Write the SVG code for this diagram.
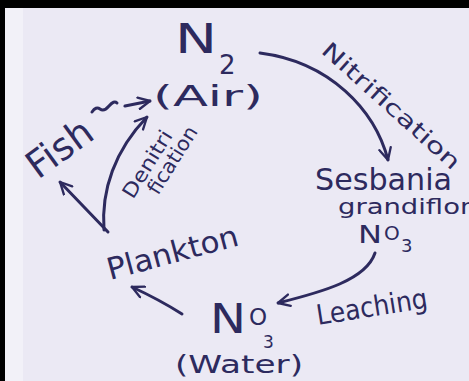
<svg xmlns="http://www.w3.org/2000/svg" width="469" height="381" viewBox="0 0 469 381">
<style>
.ink{fill:#2d2a5e;font-family:"DejaVu Sans","Liberation Sans",sans-serif;}
.ln{fill:none;stroke:#2d2a5e;stroke-width:3;stroke-linecap:round;stroke-linejoin:round;}
</style>
<defs>
<marker id="ah" viewBox="0 0 12 12" refX="11" refY="6" markerWidth="14" markerHeight="14" markerUnits="userSpaceOnUse" orient="auto">
<path d="M1,1 L11,6 L1,11" fill="none" stroke="#2d2a5e" stroke-width="2" stroke-linecap="round" stroke-linejoin="round"/>
</marker>
</defs>
<rect x="0" y="0" width="469" height="381" fill="#ebe9f4"/>
<rect x="5" y="8" width="18" height="373" fill="#f2f1f8"/>
<rect x="0" y="0" width="469" height="8" fill="#000"/>
<rect x="0" y="0" width="5" height="381" fill="#000"/>

<g id="connectors">
<path class="ln" d="M260,53 C330,62 375,110 388,160" marker-end="url(#ah)"/>
<path class="ln" d="M375,253 C366,280 322,292 278,303" marker-end="url(#ah)"/>
<path class="ln" d="M182,314 Q160,300 132,287" marker-end="url(#ah)"/>
<path class="ln" d="M108,232 L60,182" marker-end="url(#ah)"/>
<path class="ln" d="M104,230 C101,190 115,150 147,117" marker-end="url(#ah)"/>
<path class="ln" d="M92,112 q4,-6 8,-3 t9,-3 t8,-3" stroke-width="2.2"/>
<path class="ln" d="M125,106 L150,101" marker-end="url(#ah)"/>
</g>

<g id="n2-air">
<text class="ink" x="175" y="53" font-size="40" textLength="42" lengthAdjust="spacingAndGlyphs">N</text>
<text class="ink" x="219" y="74" font-size="26">2</text>
<text class="ink" x="153" y="106" font-size="29" textLength="110" lengthAdjust="spacingAndGlyphs">(Air)</text>
</g>

<g id="nitrification">
<text class="ink" font-size="22" textLength="178" lengthAdjust="spacingAndGlyphs" transform="translate(320,52) rotate(42)">Nitrification</text>
</g>

<g id="sesbania">
<text class="ink" x="315" y="190" font-size="30" textLength="137" lengthAdjust="spacingAndGlyphs">Sesbania</text>
<text class="ink" x="338" y="214" font-size="21" textLength="150" lengthAdjust="spacingAndGlyphs">grandiflora</text>
<text class="ink" x="358" y="243" font-size="24" textLength="24" lengthAdjust="spacingAndGlyphs">N</text>
<text class="ink" x="384" y="240" font-size="20">O</text>
<text class="ink" x="401" y="252" font-size="18">3</text>
</g>

<g id="leaching">
<text class="ink" font-size="28" textLength="112" lengthAdjust="spacingAndGlyphs" transform="translate(318,325) rotate(-9)">Leaching</text>
</g>

<g id="no3-water">
<text class="ink" x="210" y="333" font-size="40" textLength="36" lengthAdjust="spacingAndGlyphs">N</text>
<text class="ink" x="249" y="325" font-size="23">O</text>
<text class="ink" x="263" y="348" font-size="17">3</text>
<text class="ink" x="175" y="373" font-size="24" textLength="128" lengthAdjust="spacingAndGlyphs">(Water)</text>
</g>

<g id="plankton">
<text class="ink" font-size="30" textLength="135" lengthAdjust="spacingAndGlyphs" transform="translate(110,280) rotate(-15)">Plankton</text>
</g>

<g id="fish">
<text class="ink" font-size="38" textLength="72" lengthAdjust="spacingAndGlyphs" transform="translate(38,180) rotate(-36)">Fish</text>
</g>

<g id="denitrification">
<text class="ink" font-size="20" textLength="76" lengthAdjust="spacingAndGlyphs" transform="translate(133,200) rotate(-58)">Denitri</text>
<text class="ink" font-size="20" textLength="76" lengthAdjust="spacingAndGlyphs" transform="translate(158,196) rotate(-58)">fication</text>
</g>
</svg>
